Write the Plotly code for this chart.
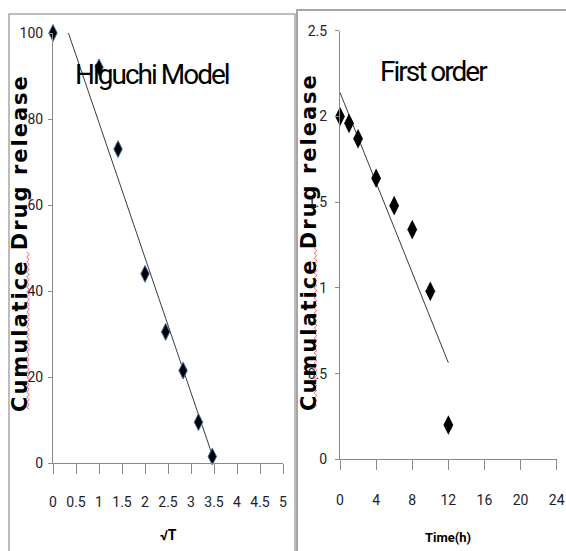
import numpy as np
import plotly.graph_objects as go

# ---------------- data ----------------
higuchi_sqrt_t = [0, 1, 1.414, 2, 2.449, 2.828, 3.162, 3.464]
higuchi_release = [100, 92, 73, 44, 30.5, 21.5, 9.5, 1.5]

first_time_h = [0, 1, 2, 4, 6, 8, 10, 12]
first_log_release = [2.0, 1.96, 1.87, 1.64, 1.48, 1.34, 0.98, 0.20]

higuchi_xticks = [0, 0.5, 1, 1.5, 2, 2.5, 3, 3.5, 4, 4.5, 5]
higuchi_yticks = [0, 20, 40, 60, 80, 100]
first_xticks = [0, 4, 8, 12, 16, 20, 24]
first_yticks = [0, 0.5, 1, 1.5, 2, 2.5]

W, H = 566, 551
NARROW = "Liberation Sans Narrow, Arial Narrow, Roboto, Liberation Sans, sans-serif"
BOLD_T = "DejaVu Sans, Verdana, sans-serif"
TICKC = "#1c1c2a"
AXC = "#8a8a8a"


def px(x):
    return x / W


def py(y):
    return 1 - y / H


# trendlines (linear least squares from the data)
k1, b1 = np.polyfit(higuchi_sqrt_t, higuchi_release, 1)
tx1 = np.array([min(higuchi_sqrt_t), max(higuchi_sqrt_t)])
k2, b2 = np.polyfit(first_time_h, first_log_release, 1)
tx2 = np.array([min(first_time_h), max(first_time_h)])

fig = go.Figure()
fig.add_trace(go.Scatter(x=tx1, y=k1 * tx1 + b1, mode="lines",
                         line=dict(color="#3a3a3a", width=1),
                         xaxis="x", yaxis="y", showlegend=False, hoverinfo="skip"))
fig.add_trace(go.Scatter(x=higuchi_sqrt_t, y=higuchi_release, mode="markers",
                         marker=dict(symbol="diamond-tall", size=12, color="black",
                                     line=dict(color="#3d6aa5", width=1)),
                         cliponaxis=False, xaxis="x", yaxis="y", showlegend=False))
fig.add_trace(go.Scatter(x=tx2, y=k2 * tx2 + b2, mode="lines",
                         line=dict(color="#3a3a3a", width=1),
                         xaxis="x2", yaxis="y2", showlegend=False, hoverinfo="skip"))
fig.add_trace(go.Scatter(x=first_time_h, y=first_log_release, mode="markers",
                         marker=dict(symbol="diamond-tall", size=14, color="black",
                                     line=dict(color="black", width=0)),
                         cliponaxis=False, xaxis="x2", yaxis="y2", showlegend=False))

tickfont = dict(family=NARROW, size=14, color=TICKC)
common_x = dict(showgrid=False, zeroline=False, showline=True, linecolor=AXC, linewidth=1,
                ticks="outside", ticklen=10, tickcolor=AXC, tickfont=tickfont,
                fixedrange=True, automargin=False)
common_y = dict(showgrid=False, zeroline=False, showline=True, linecolor=AXC, linewidth=1,
                ticks="outside", ticklen=4, tickcolor=AXC, tickfont=tickfont,
                fixedrange=True, automargin=False)

fig.update_layout(
    width=W, height=H, autosize=False,
    margin=dict(l=0, r=0, t=0, b=0, pad=0),
    paper_bgcolor="white", plot_bgcolor="white",
    xaxis=dict(domain=[px(53), px(283)], range=[0, 5], tickvals=higuchi_xticks,
               anchor="y", ticklabelstandoff=16, **common_x),
    yaxis=dict(domain=[py(463), py(33)], range=[0, 100], tickvals=higuchi_yticks,
               anchor="x", ticklabelstandoff=2, **common_y),
    xaxis2=dict(domain=[px(340), px(556.7)], range=[0, 24], tickvals=first_xticks,
                anchor="y2", ticklabelstandoff=18, **common_x),
    yaxis2=dict(domain=[py(459.3), py(30.8)], range=[0, 2.5], tickvals=first_yticks,
                anchor="x2", ticklabelstandoff=5, **common_y),
)

# panel borders
shapes = [
    dict(type="path", xref="paper", yref="paper",
         path=f"M {px(9)} {py(560)} L {px(9)} {py(14)} L {px(295)} {py(14)} L {px(295)} {py(560)}",
         line=dict(color="#a6a6a6", width=1.5)),
    dict(type="path", xref="paper", yref="paper",
         path=f"M {px(297)} {py(560)} L {px(297)} {py(10)} L {px(570)} {py(10)}",
         line=dict(color="#a6a6a6", width=2)),
]


# red spell-check squiggles under "Cumulatice"
def squiggle(xc, y0, y1, amp=1.3, step=2.5):
    pts = []
    y = y0
    i = 0
    while y <= y1:
        x = xc + (amp if i % 2 else -amp)
        pts.append((x, y))
        y += step
        i += 1
    return "M " + " L ".join(f"{px(a)} {py(b)}" for a, b in pts)


shapes.append(dict(type="path", xref="paper", yref="paper", path=squiggle(28, 252, 410),
                   line=dict(color="#ff3030", width=0.8)))
shapes.append(dict(type="path", xref="paper", yref="paper", path=squiggle(315.5, 248, 410),
                   line=dict(color="#ff3030", width=0.8)))
fig.update_layout(shapes=shapes)

tight = "letter-spacing:-2px"
wide = "letter-spacing:2px"
annotations = [
    dict(text=f"<span style='{tight}'>Higuchi Model</span>", x=px(152), y=py(75),
         font=dict(family=NARROW, size=28, color="black")),
    dict(text=f"<span style='{tight}'>First order</span>", x=px(434), y=py(71),
         font=dict(family=NARROW, size=28, color="black")),
    dict(text="<b>√T</b>", x=px(168), y=py(535),
         font=dict(family=NARROW, size=14, color="black")),
    dict(text="<b>Time(h)</b>", x=px(448), y=py(537),
         font=dict(family=NARROW, size=13, color="black")),
    dict(text=f"<b><span style='{wide}'>Cumulatice Drug release</span></b>", x=px(20),
         y=py(243), textangle=-90, font=dict(family=BOLD_T, size=21, color="black")),
    dict(text=f"<b><span style='{wide}'>Cumulatice Drug release</span></b>", x=px(309),
         y=py(242), textangle=-90, font=dict(family=BOLD_T, size=21, color="black")),
]
for a in annotations:
    a.update(xref="paper", yref="paper", showarrow=False, xanchor="center", yanchor="middle")
fig.update_layout(annotations=annotations)

fig.write_html(
    "out.html",
    config={"displayModeBar": False},
    post_script="document.body.style.margin='0px';document.body.style.overflow='hidden';",
)
